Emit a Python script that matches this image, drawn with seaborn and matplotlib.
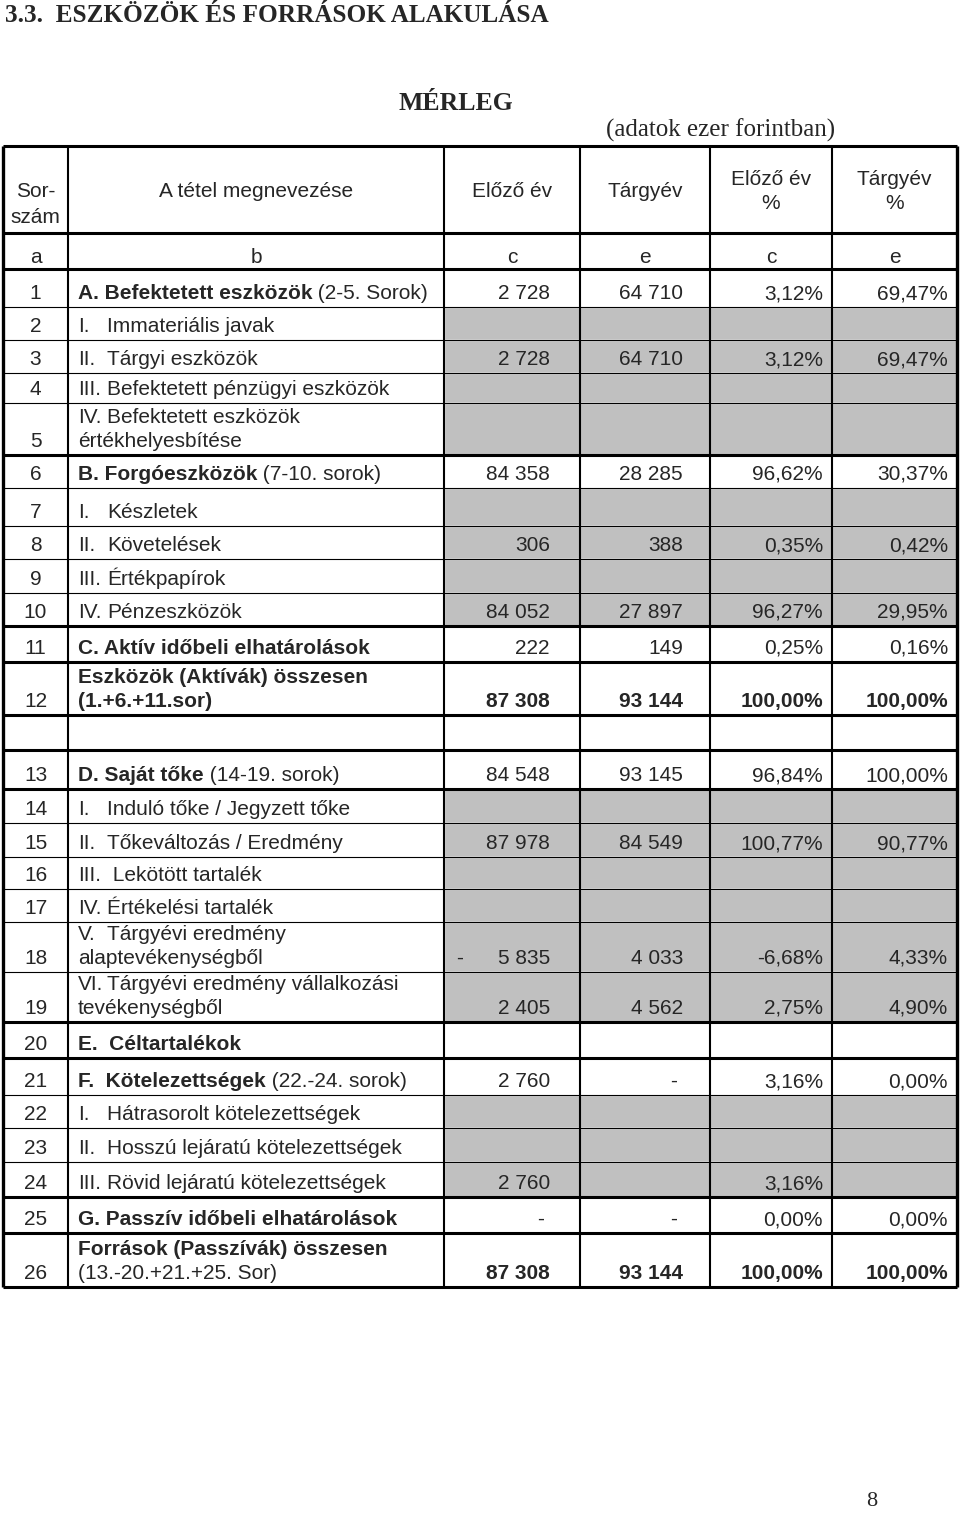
import matplotlib.pyplot as plt
import seaborn as sns

# --- table content ---
sorszam = ["1", "2", "3", "4", "5", "6", "7", "8", "9", "10", "11", "12", "",
           "13", "14", "15", "16", "17", "18", "19", "20", "21", "22", "23",
           "24", "25", "26"]

megnevezes = [
    "**A. Befektetett eszközök** (2-5. Sorok)",
    "I.\tImmateriális javak",
    "II.\tTárgyi eszközök",
    "III.\tBefektetett pénzügyi eszközök",
    "IV.\tBefektetett eszközök\nértékhelyesbítése",
    "**B. Forgóeszközök** (7-10. sorok)",
    "I.\tKészletek",
    "II.\tKövetelések",
    "III.\tÉrtékpapírok",
    "IV.\tPénzeszközök",
    "**C. Aktív időbeli elhatárolások**",
    "**Eszközök (Aktívák) összesen**\n**(1.+6.+11.sor)**",
    "",
    "**D. Saját tőke** (14-19. sorok)",
    "I.\tInduló tőke / Jegyzett tőke",
    "II.\tTőkeváltozás / Eredmény",
    "III.\t Lekötött tartalék",
    "IV.\tÉrtékelési tartalék",
    "V.\tTárgyévi eredmény\nalaptevékenységből",
    "VI.\tTárgyévi eredmény vállalkozási\ntevékenységből",
    "**E.  Céltartalékok**",
    "**F.  Kötelezettségek** (22.-24. sorok)",
    "I.\tHátrasorolt kötelezettségek",
    "II.\tHosszú lejáratú kötelezettségek",
    "III.\tRövid lejáratú kötelezettségek",
    "**G. Passzív időbeli elhatárolások**",
    "**Források (Passzívák) összesen**\n(13.-20.+21.+25. Sor)",
]

elozo_ev = [2728, None, 2728, None, None, 84358, None, 306, None, 84052, 222,
            87308, None, 84548, None, 87978, None, None, -5835, 2405, None,
            2760, None, None, 2760, 0, 87308]
targyev = [64710, None, 64710, None, None, 28285, None, 388, None, 27897, 149,
           93144, None, 93145, None, 84549, None, None, 4033, 4562, None,
           0, None, None, None, 0, 93144]
elozo_pct = [3.12, None, 3.12, None, None, 96.62, None, 0.35, None, 96.27, 0.25,
             100.00, None, 96.84, None, 100.77, None, None, -6.68, 2.75, None,
             3.16, None, None, 3.16, 0.00, 100.00]
targy_pct = [69.47, None, 69.47, None, None, 30.37, None, 0.42, None, 29.95, 0.16,
             100.00, None, 100.00, None, 90.77, None, None, 4.33, 4.90, None,
             0.00, None, None, None, 0.00, 100.00]

szurke = ["2", "3", "4", "5", "7", "8", "9", "10", "14", "15", "16", "17",
          "18", "19", "22", "23", "24"]
osszesen = ["12", "26"]
vastag_alatt = ["5", "10", "11", "12", "", "13", "19", "20", "24", "25", "26"]

# --- layout (pixels) ---
col_x = [3, 68, 444, 580, 710, 832, 957]
top = 146
header_h = 87
ab_h = 36
row_h = [38, 33, 33, 30, 52, 33, 38, 33, 34, 33, 36, 53, 35,
         39, 34, 34, 32, 33, 50, 50, 36, 37, 33, 34, 35, 36, 54]
right_pad = [30, 27, 9, 9]
line_gap = 24
FS = 15

sns.set_theme(style="white")
plt.rcParams["font.family"] = ["Liberation Sans", "DejaVu Sans"]

fig = plt.figure(figsize=(9.6, 15.13), dpi=100)
ax = fig.add_axes([0, 0, 1, 1])
ax.set_xlim(0, 960)
ax.set_ylim(1513, 0)
ax.axis("off")

serif = ["Liberation Serif", "DejaVu Serif"]
ax.text(5, 15, "3.3.  ESZKÖZÖK ÉS FORRÁSOK ALAKULÁSA", family=serif,
        fontsize=18.2, fontweight="bold", va="center", ha="left")
ax.text(456, 103, "MÉRLEG", family=serif, fontsize=18.5, fontweight="bold",
        va="center", ha="center")
ax.text(721, 130, "(adatok ezer forintban)", family=serif, fontsize=18,
        va="center", ha="center")
ax.text(872, 1502, "8", family=serif, fontsize=16, va="center", ha="center")

# row boundaries
bounds = [top, top + header_h, top + header_h + ab_h]
for h in row_h:
    bounds.append(bounds[-1] + h)
body_top = bounds[2:-1]
body_bot = bounds[3:]

# grey shading on value columns
for i, s in enumerate(sorszam):
    if s in szurke:
        ax.barh((body_top[i] + body_bot[i]) / 2, col_x[6] - col_x[2],
                height=row_h[i], left=col_x[2], color="#c0c0c0", zorder=0)

# header
centers = [(col_x[k] + col_x[k + 1]) / 2 for k in range(6)]
ax.text(centers[0], 197, "Sor-", fontsize=FS, ha="center", va="baseline")
ax.text(centers[0], 223, "szám", fontsize=FS, ha="center", va="baseline")
ax.text(centers[1], 197, "A tétel megnevezése", fontsize=FS, ha="center", va="baseline")
ax.text(centers[2], 197, "Előző év", fontsize=FS, ha="center", va="baseline")
ax.text(centers[3], 197, "Tárgyév", fontsize=FS, ha="center", va="baseline")
for k, lab in [(4, "Előző év"), (5, "Tárgyév")]:
    ax.text(centers[k], 185, lab, fontsize=FS, ha="center", va="baseline")
    ax.text(centers[k], 209, "%", fontsize=FS, ha="center", va="baseline")
for k, lab in enumerate(["a", "b", "c", "e", "c", "e"]):
    ax.text(centers[k], bounds[2] - 6, lab, fontsize=FS, ha="center", va="baseline")


def fmt_num(v):
    return f"{abs(v):,}".replace(",", " ")


def fmt_pct(v):
    return f"{v:.2f}".replace(".", ",") + "%"


def draw_line(x, y, line, weight):
    if "\t" in line:
        pre, rest = line.split("\t")
        ax.text(x, y, pre, fontsize=FS, ha="left", va="baseline", fontweight=weight)
        ax.text(x + 29, y, rest, fontsize=FS, ha="left", va="baseline", fontweight=weight)
        return
    if line.startswith("**"):
        end = line.index("**", 2)
        bold, rest = line[2:end], line[end + 2:]
        t = ax.text(x, y, bold, fontsize=FS, ha="left", va="baseline", fontweight="bold")
        if rest:
            ax.annotate(rest, xy=(1, 0), xycoords=t, fontsize=FS,
                        ha="left", va="bottom", fontweight=weight)
        return
    ax.text(x, y, line, fontsize=FS, ha="left", va="baseline", fontweight=weight)


for i, s in enumerate(sorszam):
    base = body_bot[i] - 8
    w = "bold" if s in osszesen else "normal"
    ax.text(centers[0], base, s, fontsize=FS, ha="center", va="baseline")
    lines = megnevezes[i].split("\n")
    for j, line in enumerate(lines):
        y = base - (len(lines) - 1 - j) * line_gap
        draw_line(col_x[1] + 10, y, line, "normal")
    for k, (vals, kind) in enumerate([(elozo_ev, "n"), (targyev, "n"),
                                       (elozo_pct, "p"), (targy_pct, "p")]):
        v = vals[i]
        if v is None:
            continue
        xr = col_x[k + 3] - right_pad[k]
        if kind == "p":
            ax.text(xr, base, fmt_pct(v), fontsize=FS, ha="right", va="baseline", fontweight=w)
        elif v == 0:
            ax.text(xr - 6, base, "-", fontsize=FS, ha="right", va="baseline", fontweight=w)
        else:
            ax.text(xr, base, fmt_num(v), fontsize=FS, ha="right", va="baseline", fontweight=w)
            if v < 0:
                ax.text(col_x[k + 2] + 12, base, "-", fontsize=FS, ha="left",
                        va="baseline", fontweight=w)

# grid lines
bottom = bounds[-1]
ax.vlines(col_x[1:-1], top, bottom, color="black", lw=1.5)
ax.vlines([col_x[0], col_x[-1]], top, bottom, color="black", lw=2.4)
thin = []
thick = [top, bounds[1], bounds[2]]
for i, s in enumerate(sorszam):
    (thick if s in vastag_alatt else thin).append(body_bot[i])
ax.hlines(thin, col_x[0], col_x[-1], color="black", lw=0.8)
ax.hlines(thick, col_x[0], col_x[-1], color="black", lw=2.2)

fig.savefig("out.png", dpi=100)
